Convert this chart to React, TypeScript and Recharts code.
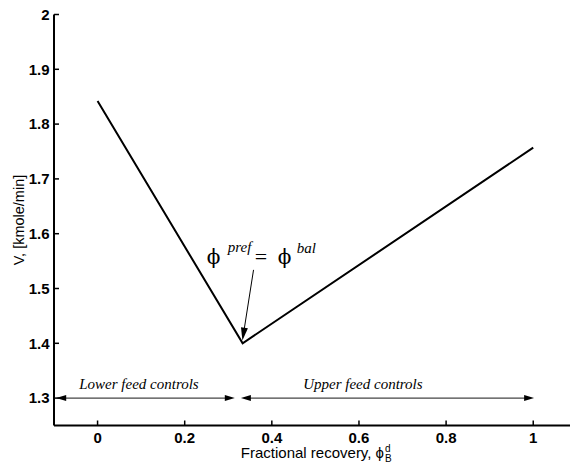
import React from 'react';
import { LineChart, Line, XAxis, YAxis, ReferenceLine, ReferenceDot, Label } from 'recharts';

const xValues = [0, 0.333, 1];
const vValues = [1.842, 1.4, 1.757];
const xTicks = [0, 0.2, 0.4, 0.6, 0.8, 1];
const yTicks = [1.3, 1.4, 1.5, 1.6, 1.7, 1.8, 1.9, 2];
const regionLabels = ['Lower feed controls', 'Upper feed controls'];
const regionLabelX = [0.095, 0.609];
const regionStarts = [-0.095, 0.329];
const regionEnds = [0.315, 1.002];
const regionLevel = 1.3;
const annotationTip = { x: 0.3325, y: 1.405 };
const annotationTail = { x: 0.358, y: 1.534 };
const annotationAnchor = { x: 0.253, y: 1.545 };

const data = xValues.map((x, i) => ({ x, v: vValues[i] }));

const SANS = '"Liberation Sans", Arial, Helvetica, sans-serif';
const SERIF = '"Liberation Serif", "Times New Roman", Times, serif';
const PHI_FONT = '"DejaVu Serif", "Liberation Serif", serif';

function head(tx: number, ty: number, fx: number, fy: number, len: number, half: number) {
  const dx = tx - fx;
  const dy = ty - fy;
  const d = Math.sqrt(dx * dx + dy * dy) || 1;
  const ux = dx / d;
  const uy = dy / d;
  const bx = tx - ux * len;
  const by = ty - uy * len;
  const px = -uy * half;
  const py = ux * half;
  return `${tx},${ty} ${bx + px},${by + py} ${bx - px},${by - py}`;
}

const DoubleArrow = (p: any) => {
  const { x1, y1, x2, y2 } = p;
  return (
    <g>
      <line x1={x1 + 6} y1={y1} x2={x2 - 6} y2={y2} stroke="#444" strokeWidth={1.2} />
      <polygon points={head(x1, y1, x2, y2, 10, 3)} fill="#000" />
      <polygon points={head(x2, y2, x1, y1, 10, 3)} fill="#000" />
    </g>
  );
};

const SingleArrow = (p: any) => {
  const { x1, y1, x2, y2 } = p;
  const dx = x2 - x1;
  const dy = y2 - y1;
  const d = Math.sqrt(dx * dx + dy * dy);
  const ex = x2 - (dx / d) * 8;
  const ey = y2 - (dy / d) * 8;
  return (
    <g>
      <line x1={x1} y1={y1} x2={ex} y2={ey} stroke="#000" strokeWidth={1} />
      <polygon points={head(x2, y2, x1, y1, 13, 3.5)} fill="#000" />
    </g>
  );
};

const RegionText = (label: string) => (p: any) => (
  <text
    x={p.cx}
    y={p.cy - 9}
    textAnchor="middle"
    fontFamily={SERIF}
    fontStyle="italic"
    fontSize={15}
    fill="#000"
  >
    {label}
  </text>
);

const AnnotationText = (p: any) => {
  const { cx, cy } = p;
  return (
    <g fill="#000">
      <text x={cx - 1} y={cy} fontSize={20} fontFamily={PHI_FONT} fill="#000">ϕ</text>
      <text x={cx + 20} y={cy - 12} fontSize={15} fontStyle="italic" fontFamily={SERIF} fill="#000">pref</text>
      <text x={cx + 47} y={cy} fontSize={22} fontFamily={SERIF} fill="#000">=</text>
      <text x={cx + 70} y={cy} fontSize={20} fontFamily={PHI_FONT} fill="#000">ϕ</text>
      <text x={cx + 89} y={cy - 11} fontSize={15} fontStyle="italic" fontFamily={SERIF} fill="#000">bal</text>
    </g>
  );
};

const YLabel = (p: any) => {
  const vb = p.viewBox || {};
  const cy = (vb.y || 0) + (vb.height || 0) / 2;
  return (
    <text
      x={23.5}
      y={cy}
      transform={`rotate(-90, 23.5, ${cy})`}
      textAnchor="middle"
      fontFamily={SANS}
      fontSize={14.5}
      fill="#000"
    >
      V, [kmole/min]
    </text>
  );
};

const XLabel = (p: any) => {
  const vb = p.viewBox || {};
  const ex = (vb.x || 0) + 330;
  return (
    <g fontFamily={SANS} fill="#000">
      <text x={ex} y={458.3} textAnchor="end" fontSize={15} fill="#000">
        Fractional recovery, ϕ
      </text>
      <text x={ex + 1} y={452} fontSize={10} fill="#000">d</text>
      <text x={ex + 1} y={461.5} fontSize={10} fill="#000">B</text>
    </g>
  );
};

const BoldTick = (p: any) => {
  const isBottom = p.orientation === 'bottom';
  return (
    <text
      x={p.x}
      y={p.y}
      dy={isBottom ? '0.71em' : '0.355em'}
      textAnchor={p.textAnchor}
      fontFamily={SANS}
      fontSize={15}
      fontWeight="bold"
      fill="#000"
    >
      {String(p.payload.value)}
    </text>
  );
};

export default function App() {
  return (
    <div
      style={{
        position: 'fixed',
        left: 0,
        top: 0,
        width: 570,
        height: 462,
        overflow: 'hidden',
        background: '#fff',
      }}
    >
      <LineChart
        width={600}
        height={462}
        data={data}
        margin={{ top: 14.5, right: 23.2, left: 0, bottom: 0 }}
      >
        <XAxis
          xAxisId="b"
          dataKey="x"
          type="number"
          domain={[-0.1, 1.1]}
          ticks={xTicks}
          interval={0}
          allowDataOverflow
          height={36.5}
          tickSize={-5}
          tickMargin={12.2}
          tick={<BoldTick orientation="bottom" />}
          axisLine={{ stroke: '#000', strokeWidth: 2 }}
          tickLine={{ stroke: '#000', strokeWidth: 1.5 }}
        >
          <Label content={XLabel} />
        </XAxis>
        <XAxis
          xAxisId="t"
          orientation="top"
          dataKey="x"
          type="number"
          domain={[-0.1, 1.1]}
          ticks={xTicks}
          interval={0}
          allowDataOverflow
          height={0}
          tickSize={-5}
          tick={() => <g />}
          axisLine={{ stroke: '#000', strokeWidth: 2 }}
          tickLine={{ stroke: '#000', strokeWidth: 1.5 }}
        />
        <YAxis
          type="number"
          domain={[1.25, 2]}
          ticks={yTicks}
          interval={0}
          allowDataOverflow
          width={54}
          tickSize={-5}
          tickMargin={9.5}
          tick={<BoldTick orientation="left" />}
          axisLine={{ stroke: '#000', strokeWidth: 2 }}
          tickLine={{ stroke: '#000', strokeWidth: 1.5 }}
        >
          <Label content={YLabel} />
        </YAxis>
        <Line
          xAxisId="b"
          type="linear"
          dataKey="v"
          stroke="#000"
          strokeWidth={2}
          dot={false}
          activeDot={false}
          isAnimationActive={false}
        />
        {regionLabels.map((lab, i) => (
          <ReferenceLine
            key={'seg' + i}
            xAxisId="b"
            segment={[
              { x: regionStarts[i], y: regionLevel },
              { x: regionEnds[i], y: regionLevel },
            ]}
            shape={DoubleArrow}
          />
        ))}
        {regionLabels.map((lab, i) => (
          <ReferenceDot
            key={'lab' + i}
            xAxisId="b"
            x={regionLabelX[i]}
            y={regionLevel}
            r={0}
            shape={RegionText(lab)}
          />
        ))}
        <ReferenceLine
          xAxisId="b"
          segment={[annotationTail, annotationTip]}
          shape={SingleArrow}
        />
        <ReferenceDot
          xAxisId="b"
          x={annotationAnchor.x}
          y={annotationAnchor.y}
          r={0}
          shape={AnnotationText}
        />
      </LineChart>
    </div>
  );
}
